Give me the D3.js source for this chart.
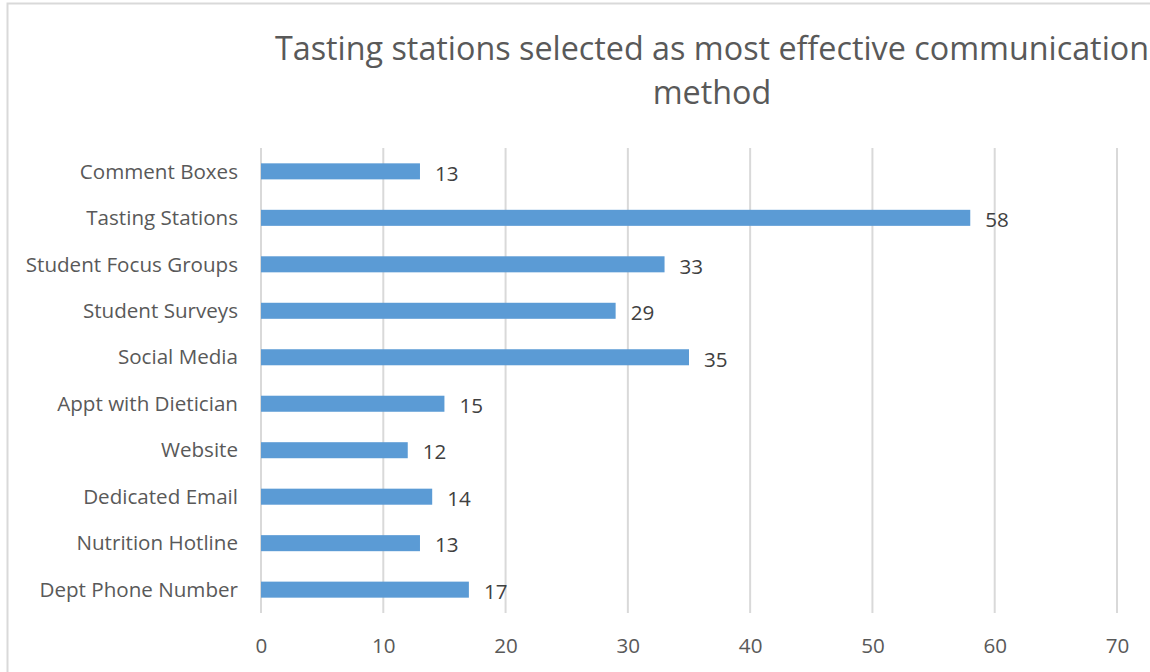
<!DOCTYPE html>
<meta charset="utf-8">
<style>
body { margin: 0; background: #fff; overflow: hidden; }
text { font-family: "Open Sans", Lato, sans-serif; }
.title { font-size: 32.3px; fill: #595959; }
.cat { font-size: 20.6px; fill: #595959; }
.val { font-size: 20.6px; fill: #404040; }
.tick text { font-size: 20.6px; fill: #595959; font-family: "Open Sans", Lato, sans-serif; }
</style>
<body>
<script src="https://d3js.org/d3.v7.min.js"></script>
<script>

var categories = ["Comment Boxes", "Tasting Stations", "Student Focus Groups", "Student Surveys",
    "Social Media", "Appt with Dietician", "Website", "Dedicated Email",
    "Nutrition Hotline", "Dept Phone Number"];
var values = [13, 58, 33, 29, 35, 15, 12, 14, 13, 17];
var xTicks = [0, 10, 20, 30, 40, 50, 60, 70];
var titleLines = ["Tasting stations selected as most effective communication", "method"];

var width = 1150, height = 672;

var svg = d3.select("body").append("svg")
    .attr("width", width)
    .attr("height", height);

// chart border (right and bottom edges run off the page)
svg.append("rect")
    .attr("x", 7.5).attr("y", 3.5)
    .attr("width", 1200).attr("height", 700)
    .attr("fill", "none")
    .attr("stroke", "#d9d9d9")
    .attr("stroke-width", 2);

var x = d3.scaleLinear().domain([0, 70]).range([261, 1117]);
var y = d3.scaleBand().domain(categories).range([148, 613]).paddingInner(0.655).paddingOuter(0.33);

svg.selectAll(".title").data(titleLines)
  .enter().append("text")
    .attr("class", "title")
    .attr("x", 712)
    .attr("y", function(d, i) { return 60 + i * 44; })
    .attr("text-anchor", "middle")
    .text(function(d) { return d; });

// gridlines
svg.append("g").selectAll("line").data(xTicks)
  .enter().append("line")
    .attr("x1", function(d) { return x(d); })
    .attr("x2", function(d) { return x(d); })
    .attr("y1", 148).attr("y2", 613)
    .attr("stroke", "#d9d9d9")
    .attr("stroke-width", 2);

var xAxis = svg.append("g")
    .attr("transform", "translate(0,613)")
    .call(d3.axisBottom(x).tickValues(xTicks).tickSize(0).tickPadding(25));
xAxis.select(".domain").remove();

svg.append("g").selectAll("rect").data(values)
  .enter().append("rect")
    .attr("x", x(0))
    .attr("y", function(d, i) { return y(categories[i]); })
    .attr("width", function(d) { return x(d) - x(0); })
    .attr("height", y.bandwidth())
    .attr("fill", "#5b9bd5");

svg.append("g").selectAll("text").data(values)
  .enter().append("text")
    .attr("class", "val")
    .attr("x", function(d) { return x(d) + 15; })
    .attr("y", function(d, i) { return y(categories[i]) + y.bandwidth() / 2; })
    .attr("dy", "0.45em")
    .text(function(d) { return d; });

svg.append("g").selectAll("text").data(categories)
  .enter().append("text")
    .attr("class", "cat")
    .attr("x", 238)
    .attr("y", function(d) { return y(d) + y.bandwidth() / 2; })
    .attr("dy", "0.35em")
    .attr("text-anchor", "end")
    .text(function(d) { return d; });

</script>
